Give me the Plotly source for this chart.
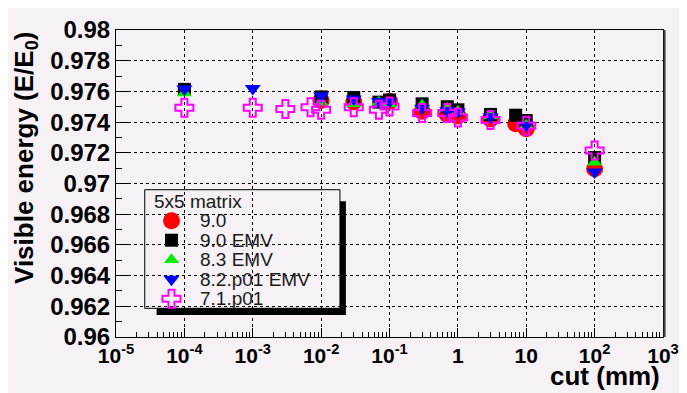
import plotly.graph_objects as go

# ---- data ----
x_90 = [0.01, 0.03, 0.1, 0.3, 0.7, 1, 3, 7, 10, 100]
y_90 = [0.9754, 0.97533, 0.97535, 0.9747, 0.9745, 0.9744, 0.9742, 0.9739, 0.97356, 0.97096]

x_90emv = [1e-4, 0.01, 0.03, 0.07, 0.1, 0.3, 0.7, 1, 3, 7, 10, 100]
y_90emv = [0.97613, 0.97564, 0.9756, 0.9753, 0.97544, 0.97519, 0.9750, 0.9748, 0.9745, 0.97445, 0.9741, 0.97169]

x_83emv = [1e-4, 0.01, 0.03, 0.07, 0.1, 0.3, 0.7, 1, 3, 10, 100]
y_83emv = [0.9759, 0.9753, 0.9752, 0.9753, 0.9752, 0.9751, 0.9749, 0.9747, 0.9744, 0.9738, 0.97138]

x_82emv = [1e-4, 1e-3, 0.01, 0.03, 0.07, 0.1, 0.3, 0.7, 1, 3, 10, 100]
y_82emv = [0.97615, 0.97619, 0.9757, 0.9755, 0.97535, 0.97535, 0.9749, 0.97475, 0.97465, 0.97435, 0.9738, 0.97075]

x_71 = [1e-4, 1e-3, 0.003, 0.007, 0.01, 0.03, 0.07, 0.1, 0.3, 0.7, 1, 3, 10, 100]
y_71 = [0.97494, 0.97494, 0.97486, 0.97496, 0.97481, 0.97496, 0.9748, 0.97502, 0.9746, 0.9746, 0.9743, 0.97414, 0.97377, 0.97215]

series_names = ["9.0", "9.0 EMV", "8.3 EMV", "8.2.p01 EMV", "7.1.p01"]
legend_title = "5x5 matrix"

x_tickvals = [1e-5, 1e-4, 1e-3, 1e-2, 1e-1, 1, 10, 100, 1000]
x_ticktext = ["10<sup>-5</sup>", "10<sup>-4</sup>", "10<sup>-3</sup>", "10<sup>-2</sup>",
              "10<sup>-1</sup>", "1", "10", "10<sup>2</sup>", "10<sup>3</sup>"]
y_tickvals = [0.96, 0.962, 0.964, 0.966, 0.968, 0.97, 0.972, 0.974, 0.976, 0.978, 0.98]
y_ticktext = ["0.96", "0.962", "0.964", "0.966", "0.968", "0.97", "0.972", "0.974", "0.976", "0.978", "0.98"]

# ---- styles ----
BG = "#f5f1f5"
FONT = "Liberation Sans, Arial, sans-serif"
styles = [
    dict(symbol="circle", size=17, color="#ff0000"),
    dict(symbol="square", size=13, color="#000000"),
    dict(symbol="triangle-up", size=13, color="#00ee00"),
    dict(symbol="triangle-down", size=14, color="#0000ff"),
    dict(symbol="cross-open", size=15, color="#ff00ff", line=dict(color="#ff00ff", width=2)),
]
xs = [x_90, x_90emv, x_83emv, x_82emv, x_71]
ys = [y_90, y_90emv, y_83emv, y_82emv, y_71]

# page body has an 8px margin; plot area is placed at screen (116..668, 16..337)
W, H = 679, 385
ML, MT = 108, 8
PW, PH = 552, 321
MR = W - ML - PW
MB = H - MT - PH

fig = go.Figure()
for name, x, y, st in zip(series_names, xs, ys, styles):
    fig.add_trace(go.Scatter(x=x, y=y, mode="markers", name=name, marker=st,
                             showlegend=False))

# ---- manual legend (in paper fractions of the plot area) ----
def px_x(p):  # screen x -> paper fraction
    return (p - 116) / PW

def px_y(p):  # screen y -> paper fraction
    return (337 - p) / PH

leg_left, leg_right, leg_top, leg_bottom = 145, 342, 183, 307
row_h = 20.4
title_y = 195
glyph_x = 172
text_x = 199

row_ys = [px_y(title_y + (i + 1) * row_h) for i in range(len(series_names))]
for name, st, ry in zip(series_names, styles, row_ys):
    fig.add_trace(go.Scatter(x=[px_x(glyph_x)], y=[ry], mode="markers", marker=st,
                             xaxis="x2", yaxis="y2", showlegend=False, hoverinfo="skip"))

annotations = [
    dict(text=legend_title, xref="paper", yref="paper", x=px_x(152), y=px_y(title_y),
         xanchor="left", yanchor="middle", showarrow=False,
         font=dict(size=19, family=FONT, color="#1a1a1a")),
]
for name, ry in zip(series_names, row_ys):
    annotations.append(dict(text=name, xref="paper", yref="paper", x=px_x(text_x), y=ry,
                            xanchor="left", yanchor="middle", showarrow=False,
                            font=dict(size=19, family=FONT, color="#1a1a1a")))

annotations += [
    dict(text="cut (mm)", xref="paper", yref="paper", x=px_x(667), y=px_y(378),
         xanchor="right", yanchor="middle", showarrow=False,
         font=dict(size=26, family=FONT, color="black", weight="bold")),
    dict(text="Visible energy (E/E<sub>0</sub>)", xref="paper", yref="paper",
         x=px_x(24), y=px_y(150), xanchor="center", yanchor="middle", textangle=-90,
         showarrow=False,
         font=dict(size=26, family=FONT, color="black", weight="bold")),
]

shapes = [
    # legend shadow
    dict(type="rect", xref="paper", yref="paper", layer="between",
         x0=px_x(leg_left + 12), x1=px_x(leg_right + 6), y0=px_y(leg_top + 12), y1=px_y(leg_bottom + 7),
         fillcolor="black", line=dict(width=0)),
    # legend box
    dict(type="rect", xref="paper", yref="paper", layer="between",
         x0=px_x(leg_left), x1=px_x(leg_right), y0=px_y(leg_top), y1=px_y(leg_bottom),
         fillcolor=BG, line=dict(color="black", width=1)),
    # frame shadow on the right
    dict(type="line", xref="paper", yref="paper", x0=1.003, x1=1.003, y0=0.0, y1=1.0,
         line=dict(color="#444444", width=2)),
]

fig.update_layout(
    width=W, height=H,
    margin=dict(l=ML, r=MR, t=MT, b=MB),
    paper_bgcolor=BG, plot_bgcolor=BG,
    font=dict(family=FONT, color="black"),
    showlegend=False,
    xaxis=dict(
        type="log", range=[-5, 3],
        tickvals=x_tickvals, ticktext=x_ticktext,
        tickfont=dict(size=21, family=FONT, color="black", weight="bold"),
        ticks="inside", ticklen=9, tickcolor="black", ticklabeloverflow="allow",
        showline=True, linecolor="black", linewidth=1, mirror=True,
        showgrid=True, gridcolor="black", griddash="dot", gridwidth=1,
        minor=dict(ticks="inside", ticklen=5, tickcolor="black", dtick="D1", showgrid=False),
        zeroline=False,
    ),
    yaxis=dict(
        range=[0.96, 0.98],
        tickvals=y_tickvals, ticktext=y_ticktext,
        tickfont=dict(size=24, family=FONT, color="black", weight="bold"),
        ticks="inside", ticklen=12, tickcolor="black", ticklabeloverflow="allow",
        showline=True, linecolor="black", linewidth=1, mirror=True,
        showgrid=True, gridcolor="black", griddash="dot", gridwidth=1,
        minor=dict(ticks="inside", ticklen=6, tickcolor="black", dtick=0.001, showgrid=False),
        zeroline=False,
    ),
    xaxis2=dict(overlaying="x", range=[0, 1], visible=False, fixedrange=True),
    yaxis2=dict(overlaying="y", range=[0, 1], visible=False, fixedrange=True),
    annotations=annotations,
    shapes=shapes,
)

fig.write_html("out.html")
